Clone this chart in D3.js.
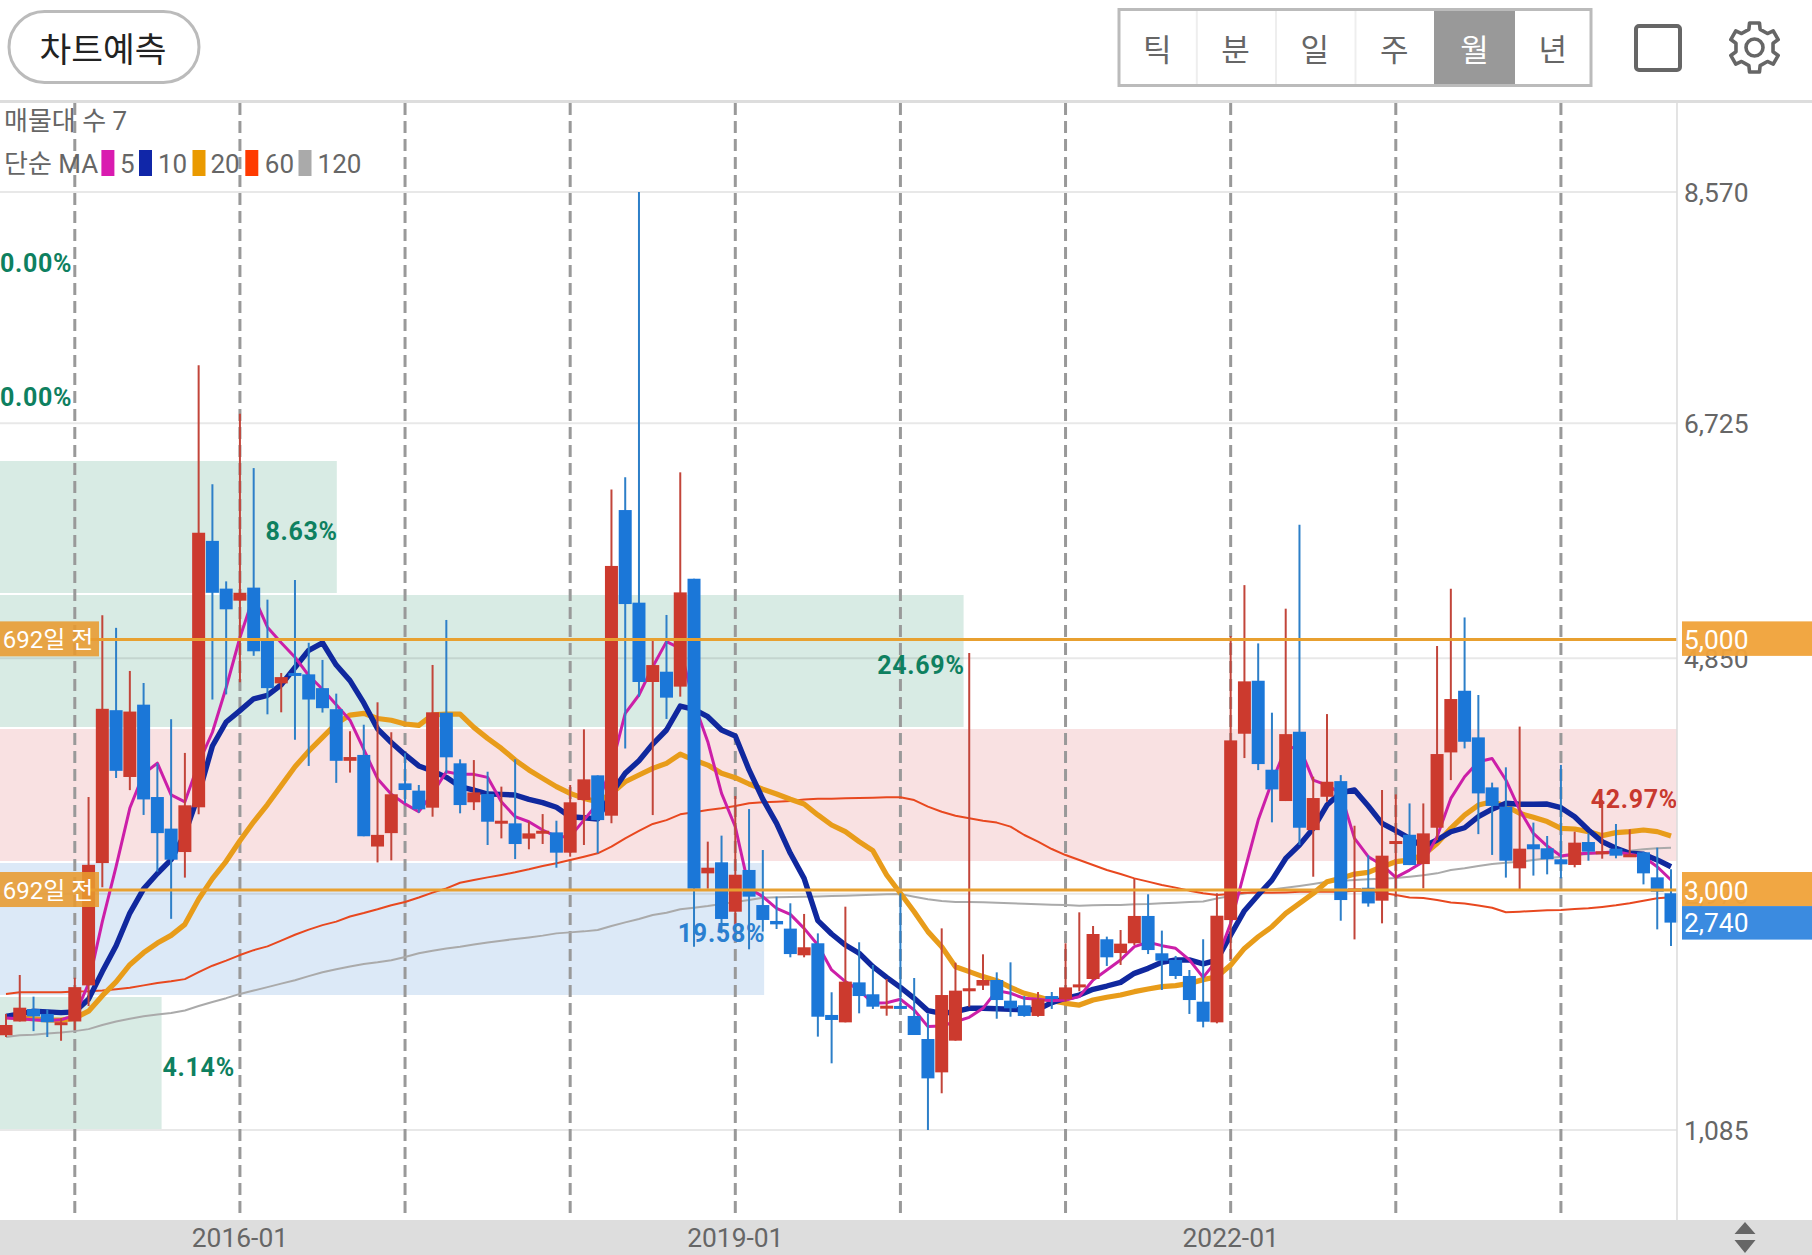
<!DOCTYPE html>
<html><head><meta charset="utf-8">
<script src="https://cdnjs.cloudflare.com/ajax/libs/d3/7.8.5/d3.min.js"></script>
<style>html,body{margin:0;padding:0;background:#fff}svg{display:block}text{font-family:Roboto,"Noto Sans CJK KR",sans-serif}</style>
</head><body><svg id="c" width="1812" height="1255"></svg>
<script>
const openP=[1841,1951,2050,2011,1937,1951,2239,3215,4435,3902,4479,3742,3490,3303,3660,5786,5405,5309,5413,4987,4649,4732,4721,4611,4443,4031,4078,3347,3454,3851,3793,3657,4415,4011,3700,3766,3545,3532,3410,3463,3460,3298,3718,3915,3593,6032,5293,4660,4742,4623,5484,3133,3221,2827,3160,2880,2753,2692,2479,2575,2003,1944,2263,2168,2066,2075,1995,1811,1545,1798,2208,2237,2282,2117,2080,1995,2154,2128,2229,2290,2607,2497,2575,2793,2495,2442,2314,2109,1944,2760,4247,4670,3960,3710,4263,3478,3744,3869,3005,3018,2915,3383,3441,3207,3497,4098,4590,4218,3819,3665,3173,3365,3333,3245,3200,3383,3298,3330,3266,3301,3101,2974];
const closeP=[1923,2061,1992,1945,1945,2225,3201,4446,3951,4424,3723,3454,3242,3676,5851,5372,5240,5372,4905,4611,4699,4721,4520,4451,4031,4061,3429,3440,3764,3798,3644,4418,4059,3678,3779,3545,3553,3367,3452,3473,3298,3700,3883,3558,5586,5282,4660,4795,4535,5375,3011,3178,2769,3122,2947,2761,2726,2489,2543,1989,1963,2269,2154,2069,2077,2059,1843,1497,2162,2197,2216,2282,2122,2056,1995,2128,2138,2223,2247,2649,2463,2572,2793,2521,2436,2314,2122,1949,2795,4194,4665,4005,3803,4244,3497,3734,3864,2920,3013,2893,3274,3391,3199,3452,4085,4524,4183,3771,3671,3234,3330,3325,3245,3205,3378,3306,3309,3274,3285,3133,2987,2740];
const highP=[2011,2322,2149,2047,1978,2300,3742,5193,5092,4748,4652,4012,4363,4094,7188,6238,5463,6800,6367,5317,4732,5474,4973,4836,4567,4267,4319,4498,4259,4091,3838,4796,5155,4043,4037,3944,3825,4043,3545,3606,3553,3838,4282,3915,6197,6293,8570,4987,5195,6333,5484,3386,3434,3750,3646,3319,2947,2894,2809,2654,2184,2867,2583,2402,2290,2974,2298,2016,2694,2420,4892,2487,2343,2423,2154,2186,2186,2575,2822,2713,2628,2681,3088,2966,2676,2474,2362,2607,2974,5026,5433,4968,4415,5245,5915,3904,4404,3917,3513,3279,3798,3763,3691,3691,4947,5404,5175,4556,3857,3979,4304,3538,3431,3998,3466,3452,3718,3527,3484,3306,3338,3165];
const lowP=[1827,1951,1874,1827,1797,1882,2074,3022,3894,3797,3599,3146,2770,3099,3605,4520,4561,4657,4869,4402,4418,4199,3990,4416,3855,3937,3429,3220,3237,3692,3617,3585,3931,3612,3638,3359,3412,3247,3325,3367,3178,3266,3359,3293,3532,4130,4543,3598,4365,4543,2548,3011,2654,2654,2527,2668,2689,2463,2463,1830,1617,1944,2016,2051,1997,2059,1843,1085,1378,1798,2069,2202,1973,1989,1989,1989,2051,2109,2192,2282,2394,2402,2561,2489,2202,2290,2011,1904,1936,2449,4053,3957,3540,3710,3359,3106,3704,2755,2606,2867,2734,2946,3199,3013,3399,3877,4130,3446,3280,3099,3006,3115,3125,3093,3181,3234,3250,3253,3266,3045,2686,2553];
const ma5=[1978,1973,1964,1959,1964,2000,2253,2748,3187,3654,3929,4012,3759,3704,4012,4259,4616,5015,5344,5097,4973,4858,4712,4602,4479,4355,4122,3888,3764,3687,3625,3771,3944,3923,3923,3899,3705,3585,3545,3479,3426,3426,3558,3692,3984,4410,4556,4782,4982,4929,4490,4184,3771,3505,3013,2947,2854,2806,2694,2561,2362,2269,2202,2096,2101,2128,2043,1910,1915,1949,1984,2056,2197,2176,2136,2128,2117,2122,2149,2282,2362,2442,2548,2583,2556,2535,2442,2303,2441,2734,3146,3558,3864,4130,4143,3877,3837,3771,3412,3266,3199,3101,3159,3226,3425,3731,3904,4024,4050,3878,3639,3452,3351,3272,3287,3293,3298,3306,3285,3266,3186,3080];
const ma10=[1992,2011,2033,2028,2022,2028,2129,2349,2555,2816,3009,3132,3242,3448,3764,4149,4341,4432,4526,4553,4638,4776,4913,4973,4795,4671,4493,4286,4177,4080,3990,3950,3899,3825,3798,3766,3763,3758,3723,3697,3660,3585,3577,3567,3771,3931,4032,4165,4277,4468,4442,4383,4277,4229,3958,3725,3532,3293,3093,2756,2649,2561,2495,2388,2303,2223,2136,2037,2016,2029,2056,2056,2053,2048,2043,2048,2101,2136,2162,2208,2234,2263,2335,2375,2423,2442,2442,2410,2441,2641,2835,2960,3079,3252,3359,3492,3678,3776,3798,3670,3532,3473,3412,3345,3399,3465,3497,3585,3645,3692,3684,3684,3686,3657,3585,3479,3386,3333,3293,3285,3240,3186];
const ma20=[1992,1978,1973,1964,1962,1978,2033,2157,2267,2404,2500,2577,2638,2726,2926,3091,3229,3393,3544,3682,3833,3984,4108,4218,4328,4396,4410,4369,4355,4325,4314,4397,4404,4404,4298,4210,4130,4037,3958,3891,3825,3771,3731,3705,3771,3864,3918,3971,4011,4085,4037,3997,3931,3896,3846,3804,3766,3724,3686,3599,3519,3466,3386,3314,3120,2974,2827,2668,2548,2388,2349,2309,2277,2223,2176,2149,2117,2096,2082,2122,2144,2162,2189,2210,2229,2237,2255,2285,2308,2401,2534,2627,2707,2813,2893,2973,3066,3093,3127,3141,3186,3226,3239,3279,3372,3492,3598,3678,3705,3671,3612,3580,3546,3492,3487,3466,3434,3458,3466,3479,3466,3431];
const ma60=[2170,2184,2184,2184,2184,2190,2192,2198,2209,2220,2239,2258,2272,2289,2344,2396,2437,2481,2520,2550,2596,2643,2684,2720,2748,2789,2816,2846,2879,2905,2940,2979,3013,3058,3080,3101,3120,3141,3165,3192,3213,3239,3266,3293,3346,3412,3471,3527,3558,3604,3620,3638,3652,3670,3692,3700,3705,3710,3723,3729,3729,3732,3734,3737,3740,3740,3718,3665,3625,3593,3572,3553,3538,3506,3439,3386,3327,3279,3240,3200,3160,3128,3093,3067,3040,3019,2995,2975,2960,2968,2978,2981,2978,2981,2986,2986,2986,2986,2994,2994,2978,2960,2941,2936,2920,2901,2893,2877,2858,2822,2827,2833,2838,2841,2849,2854,2865,2878,2894,2915,2934,2942];
const ma120=[1827,1841,1846,1855,1863,1874,1890,1923,1951,1973,1992,2006,2019,2039,2074,2107,2137,2171,2198,2225,2253,2280,2313,2344,2368,2390,2410,2423,2440,2466,2495,2516,2534,2548,2566,2582,2596,2609,2622,2636,2654,2662,2670,2681,2713,2742,2769,2800,2819,2846,2859,2872,2888,2904,2920,2939,2942,2944,2947,2949,2952,2955,2958,2963,2966,2968,2947,2926,2912,2904,2904,2902,2899,2894,2891,2886,2883,2881,2875,2878,2881,2881,2886,2888,2894,2899,2904,2908,2933,2952,2973,2992,3005,3018,3032,3048,3066,3074,3079,3085,3090,3095,3106,3117,3133,3159,3173,3191,3208,3218,3226,3240,3253,3266,3277,3287,3298,3306,3314,3325,3333,3338];
const priceTicks=[8570,6725,4850,2970,1085];
const bandPct=[4.14,19.58,42.97,24.69,8.63,0,0];
const bandKind=["g","b","r","g","g","g","g"];
const priceLines=[5000,3000];
const lastPrice=2740;
const monthLabels=d3.timeMonths(new Date(2014,7,1),new Date(2024,9,1)).map(d3.timeFormat("%Y-%m"));
const maSpecs=[["ma120",ma120,"#aaaaaa",2],["ma60",ma60,"#e8481f",2],["ma20",ma20,"#e89c1a",5.2],["ma10",ma10,"#10289e",5.4],["ma5",ma5,"#cc1fa8",3]];
const legend=[["5","#d91bb0",101.4,120],["10","#1026a8",139,158],["20","#ea9a00",192.5,210.5],["60","#ff3a00",245.3,264.8],["120","#aaaaaa",298.5,317.6]];
const periods=["틱","분","일","주","월","년"];

const svg=d3.select("#c");
const W=1812,H=1255,plotR=1677,plotT=103,plotB=1220;
const x=d3.scalePoint().domain(monthLabels).range([6,1671]);
const y=d3.scaleLinear().domain([1085,8570]).range([1130,192]);
const pctX=d3.scaleLinear().domain([0,42.97]).range([0,plotR]);
const zoneCol={g:"#d8ebe4",b:"#dce9f7",r:"#f9e1e2"},zoneTxt={g:"#0e8060",b:"#2a7fd0",r:"#c8392f"};
const bandH=(8570-1085)/7;

// zones
const z=svg.append("g");
bandPct.forEach((p,k)=>{
  const lo=1085+k*bandH,hi=lo+bandH,yt=y(hi)+1,yb=y(lo)-1;
  if(p>0)z.append("rect").attr("x",0).attr("y",yt).attr("width",pctX(p)).attr("height",yb-yt).attr("fill",zoneCol[bandKind[k]]);
});
// y axis + grid
const ya=d3.axisRight(y).tickValues(priceTicks).tickSize(0).tickPadding(0).tickFormat(d3.format(","));
const gy=svg.append("g").attr("transform",`translate(${plotR+7},1)`).call(ya);
gy.select(".domain").remove();
gy.selectAll("text").attr("font-size",26.4).attr("fill","#666").style("font-family","Roboto");
svg.append("g").selectAll("line").data(priceTicks).join("line").attr("x1",0).attr("x2",plotR).attr("y1",y).attr("y2",y).attr("stroke","#000").attr("stroke-opacity",.09).attr("stroke-width",2);
// vertical dashed
const yearTicks=monthLabels.filter(m=>m.endsWith("-01"));
svg.append("g").selectAll("line").data(yearTicks).join("line").attr("x1",d=>x(d)).attr("x2",d=>x(d)).attr("y1",plotT).attr("y2",plotB-5).attr("stroke","#999").attr("stroke-width",3).attr("stroke-dasharray","12 6");
// MA lines
const ln=a=>d3.line().x((d,i)=>x(monthLabels[i])).y(d=>y(d)).curve(d3.curveLinear)(a);
svg.append("g").selectAll("path").data(maSpecs).join("path").attr("d",d=>ln(d[1])).attr("fill","none").attr("stroke",d=>d[2]).attr("stroke-width",d=>d[3]).attr("stroke-linejoin","round");
// candles
const idx=d3.range(monthLabels.length),colOf=i=>closeP[i]>=openP[i]?"#cc3a2e":"#1b77d8",wickOf=i=>closeP[i]>=openP[i]?"#c2453a":"#2d7fc8";
const cg=svg.append("g");
cg.selectAll("line").data(idx).join("line").attr("x1",i=>x(monthLabels[i])).attr("x2",i=>x(monthLabels[i])).attr("y1",i=>y(highP[i])).attr("y2",i=>y(lowP[i])).attr("stroke",wickOf).attr("stroke-width",2);
cg.selectAll("rect").data(idx).join("rect").attr("x",i=>x(monthLabels[i])-6.5).attr("width",13).attr("y",i=>y(Math.max(openP[i],closeP[i]))).attr("height",i=>Math.max(3,Math.abs(y(openP[i])-y(closeP[i])))).attr("fill",colOf);
// price lines
svg.append("g").selectAll("line").data(priceLines).join("line").attr("x1",90).attr("x2",plotR).attr("y1",y).attr("y2",y).attr("stroke","#e8a030").attr("stroke-width",3);
// left tags
priceLines.forEach(v=>{
  svg.append("rect").attr("x",0).attr("y",y(v)-18).attr("width",99).attr("height",35).attr("fill","#e89a2f").attr("fill-opacity",.88);
  svg.append("text").attr("x",48).attr("y",y(v)).attr("dy","0.36em").attr("text-anchor","middle").attr("font-size",24).attr("fill","#fff").text("692일 전");
});
// percent labels
bandPct.forEach((p,k)=>{
  const yc=y(1085+(k+.5)*bandH)+4,w=pctX(p);
  const t=svg.append("text").attr("y",yc).attr("dy","0.36em").attr("font-size",25).attr("font-weight",700).attr("letter-spacing",".7").attr("fill",zoneTxt[bandKind[k]]).text(p.toFixed(2)+"%");
  if(p===0)t.attr("x",0);
  else if(p<5)t.attr("x",w+1);
  else t.attr("x",w+1).attr("text-anchor","end");
});
// right border
svg.append("line").attr("x1",plotR).attr("x2",plotR).attr("y1",plotT).attr("y2",plotB).attr("stroke","#ddd").attr("stroke-width",1.6);
// right tags
priceLines.forEach(v=>{
  svg.append("rect").attr("x",1682).attr("y",y(v)-18).attr("width",130).attr("height",34.5).attr("fill","#f0a33b").attr("fill-opacity",.96);
  svg.append("text").attr("x",1684).attr("y",y(v)+.5).attr("dy","0.36em").attr("font-size",26.4).attr("fill","#fff").text(d3.format(",")(v));
});
svg.append("rect").attr("x",1682).attr("y",y(lastPrice)-16.5).attr("width",130).attr("height",33.5).attr("fill","#3b8be0");
svg.append("text").attr("x",1684).attr("y",y(lastPrice)).attr("dy","0.36em").attr("font-size",26.4).attr("fill","#fff").text(d3.format(",")(lastPrice));
// x bar
svg.append("rect").attr("x",0).attr("y",plotB).attr("width",W).attr("height",H-plotB).attr("fill","#dddddd");
const xa=d3.axisBottom(x).tickValues(["2016-01","2019-01","2022-01"]).tickSize(0).tickPadding(0);
const gx=svg.append("g").attr("transform",`translate(-0.5,${plotB+8})`).call(xa);
gx.select(".domain").remove();
gx.selectAll("text").attr("font-size",26.4).attr("fill","#666").style("font-family","Roboto");
svg.append("path").attr("d","M1734.5 1234L1745 1222L1755.5 1234Z M1734.5 1240L1755.5 1240L1745 1253Z").attr("fill","#666");
// header
svg.append("rect").attr("x",0).attr("y",100).attr("width",W).attr("height",3).attr("fill","#ddd");
svg.append("rect").attr("x",9).attr("y",11.5).attr("width",190).attr("height",71).attr("rx",35.5).attr("fill","#fff").attr("stroke","#bbb").attr("stroke-width",3);
svg.append("text").attr("x",103).attr("y",49.5).attr("dy","0.36em").attr("text-anchor","middle").attr("font-size",34.5).attr("fill","#222").text("차트예측");
svg.append("text").attr("x",4).attr("y",121).attr("dy","0.36em").attr("font-size",26).attr("fill","#666").text("매물대 수 7");
svg.append("text").attr("x",4).attr("y",164).attr("dy","0.36em").attr("font-size",26).attr("fill","#666").text("단순 MA");
legend.forEach(l=>{
  svg.append("rect").attr("x",l[2]).attr("y",150).attr("width",13).attr("height",26).attr("fill",l[1]);
  svg.append("text").attr("x",l[3]).attr("y",164).attr("dy","0.36em").attr("font-size",26).attr("fill","#666").text(l[0]);
});
// period selector
const pEdges=[1119.5,1196.8,1276,1355.5,1435,1516,1591.5];
const pg=svg.append("g");
pg.append("rect").attr("x",1434).attr("y",8).attr("width",81).attr("height",79).attr("fill","#999");
pg.append("rect").attr("x",1119).attr("y",9.5).attr("width",472).attr("height",76).attr("fill","none").attr("stroke","#bbb").attr("stroke-width",3);
[1,2,3].forEach(k=>pg.append("line").attr("x1",pEdges[k]).attr("x2",pEdges[k]).attr("y1",11).attr("y2",84).attr("stroke","#eee").attr("stroke-width",2));
periods.forEach((p,k)=>pg.append("text").attr("x",(pEdges[k]+pEdges[k+1])/2-1).attr("y",50).attr("dy","0.36em").attr("text-anchor","middle").attr("font-size",31).attr("fill",k===4?"#fff":"#666").text(p));
svg.append("rect").attr("x",1636).attr("y",26).attr("width",44).attr("height",44).attr("rx",3).attr("fill","none").attr("stroke","#666").attr("stroke-width",4);
// gear
const gearPts=[];for(let k=0;k<6;k++){const a=k*Math.PI/3;[[-.30,19],[-.2,25],[.2,25],[.30,19]].forEach(q=>gearPts.push([a+q[0],q[1]]));}
const gear=svg.append("g").attr("transform","translate(1754.5,47.5)");
gear.append("path").attr("d",d3.lineRadial().curve(d3.curveLinearClosed)(gearPts)).attr("fill","none").attr("stroke","#666").attr("stroke-width",3.6).attr("stroke-linejoin","round");
gear.append("circle").attr("r",8.5).attr("fill","none").attr("stroke","#666").attr("stroke-width",3.6);
</script></body></html>
